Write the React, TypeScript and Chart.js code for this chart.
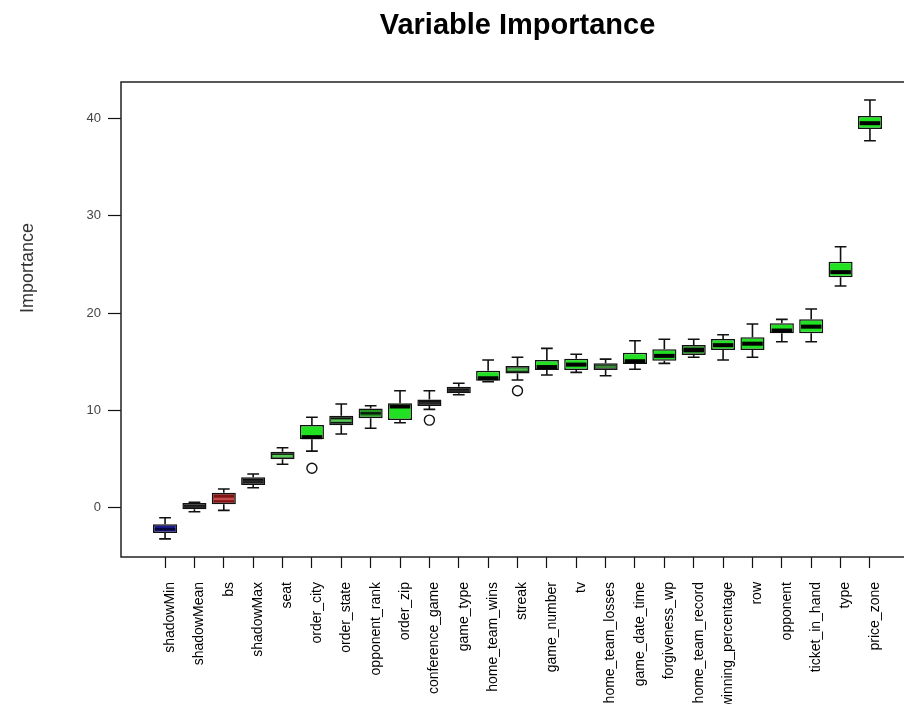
import React, { useEffect, useRef } from "react";
import { Chart, registerables } from "chart.js";

Chart.register(...registerables);

const names = [
  "shadowMin", "shadowMean", "bs", "shadowMax", "seat", "order_city", "order_state",
  "opponent_rank", "order_zip", "conference_game", "game_type", "home_team_wins",
  "streak", "game_number", "tv", "home_team_losses", "game_date_time", "forgiveness_wp",
  "home_team_record", "winning_percentage", "row", "opponent", "ticket_in_hand", "type",
  "price_zone",
];
const whiskerLow = [-3.2, -0.41, -0.27, 2.05, 4.46, 5.82, 7.57, 8.16, 8.73, 10.1, 11.6, 12.94, 13.12, 13.63, 13.9, 13.56, 14.22, 14.83, 15.45, 15.17, 15.45, 17.05, 17.05, 22.77, 37.7];
const q1 = [-2.6, -0.16, 0.35, 2.33, 4.97, 7.03, 8.46, 9.18, 9.0, 10.45, 11.75, 13.05, 13.8, 14.14, 14.14, 14.15, 14.76, 15.1, 15.68, 16.2, 16.2, 17.91, 17.91, 23.67, 38.9];
const medians = [-2.2, 0.1, 0.9, 2.7, 5.3, 7.25, 8.95, 9.7, 10.4, 10.75, 12.0, 13.3, 14.2, 14.45, 14.7, 14.48, 15.05, 15.6, 16.2, 16.7, 16.85, 18.2, 18.6, 24.2, 39.5];
const q3 = [-1.7, 0.48, 1.54, 3.12, 5.75, 8.5, 9.45, 10.2, 10.72, 11.13, 12.43, 14.07, 14.55, 15.17, 15.3, 14.83, 15.92, 16.27, 16.71, 17.33, 17.5, 18.94, 19.35, 25.27, 40.24];
const whiskerHigh = [-1.03, 0.55, 1.92, 3.46, 6.16, 9.29, 10.65, 10.48, 12.02, 12.02, 12.78, 15.17, 15.45, 16.37, 15.76, 15.27, 17.15, 17.3, 17.3, 17.77, 18.87, 19.35, 20.41, 26.81, 41.88];
const outlierIdx = [5, 9, 12];
const outlierVal = [4.05, 9.0, 12.02];
const yTicks = [0, 10, 20, 30, 40];

const GREEN = "#22e022";
const DARK = "#0c1a0c";
const fills = [
  "#1c1c8a", "#0d0d0d", "#7e1414", "#0d0d0d", DARK, GREEN, DARK,
  "#249424", GREEN, "#0d0d0d", "#0d0d0d", GREEN,
  "#163216", GREEN, GREEN, "#102010", GREEN, GREEN,
  "#248424", GREEN, GREEN, GREEN, GREEN, GREEN, GREEN,
];
const medianColors = [
  "#06063e", "#262626", "#c44a4a", "#262626", "#56c856", "#000000", "#56c856",
  "#0a200a", "#000000", "#262626", "#262626", "#000000",
  "#4cbc4c", "#000000", "#000000", "#3a8a3a", "#000000", "#000000",
  "#000000", "#000000", "#000000", "#000000", "#000000", "#000000", "#000000",
];

const W = 940;
const H = 780;
const FONT = "'Liberation Sans', Arial, sans-serif";

export default function App() {
  const ref = useRef<HTMLCanvasElement>(null);

  useEffect(() => {
    const canvas = ref.current;
    if (!canvas) return;

    const boxPlugin = {
      id: "boxExtras",
      afterDatasetsDraw(chart: any) {
        const { ctx, scales } = chart;
        const x = scales.x;
        const y = scales.y;
        const step = x.getPixelForValue(1) - x.getPixelForValue(0);
        const half = (step * 0.8) / 2;
        const staple = half / 2;
        ctx.save();
        for (let i = 0; i < names.length; i++) {
          const cx = x.getPixelForValue(i);
          const yLo = y.getPixelForValue(whiskerLow[i]);
          const yQ1 = y.getPixelForValue(q1[i]);
          const yQ3 = y.getPixelForValue(q3[i]);
          const yHi = y.getPixelForValue(whiskerHigh[i]);
          const yMed = y.getPixelForValue(medians[i]);
          ctx.strokeStyle = "#111";
          ctx.lineWidth = 1.6;
          ctx.beginPath();
          ctx.moveTo(cx, yQ3);
          ctx.lineTo(cx, yHi);
          ctx.moveTo(cx - staple, yHi);
          ctx.lineTo(cx + staple, yHi);
          ctx.moveTo(cx, yQ1);
          ctx.lineTo(cx, yLo);
          ctx.moveTo(cx - staple, yLo);
          ctx.lineTo(cx + staple, yLo);
          ctx.stroke();
          ctx.strokeStyle = medianColors[i];
          ctx.lineWidth = medianColors[i] === "#000000" ? 4 : 2.5;
          ctx.beginPath();
          ctx.moveTo(cx - half + 1.5, yMed);
          ctx.lineTo(cx + half - 1.5, yMed);
          ctx.stroke();
        }
        ctx.restore();
      },
      afterDraw(chart: any) {
        const { ctx, chartArea } = chart;
        const { left, right, top, bottom } = chartArea;
        ctx.save();
        ctx.strokeStyle = "#222";
        ctx.lineWidth = 1.5;
        ctx.strokeRect(left, top, right - left, bottom - top);
        ctx.fillStyle = "#000";
        ctx.font = `bold 29px ${FONT}`;
        ctx.textAlign = "center";
        ctx.textBaseline = "middle";
        ctx.fillText("Variable Importance", (left + right) / 2, 26);
        ctx.translate(28, 268);
        ctx.rotate(-Math.PI / 2);
        ctx.fillStyle = "#333";
        ctx.font = `18px ${FONT}`;
        ctx.fillText("Importance", 0, 0);
        ctx.restore();
      },
    };

    const chart = new Chart(canvas, {
      type: "bar",
      data: {
        datasets: [
          {
            type: "bar",
            data: names.map((_, i) => ({ x: i, y: [q1[i], q3[i]] })) as any,
            backgroundColor: fills,
            borderColor: "#111",
            borderWidth: 1.5,
            borderSkipped: false,
            barPercentage: 0.82,
            categoryPercentage: 1,
          },
          {
            type: "scatter",
            data: outlierIdx.map((idx, k) => ({ x: idx, y: outlierVal[k] })) as any,
            pointRadius: 5,
            pointBackgroundColor: "#fff",
            pointBorderColor: "#111",
            pointBorderWidth: 1.4,
          } as any,
        ],
      },
      options: {
        animation: false,
        responsive: false,
        devicePixelRatio: 1,
        layout: { padding: { top: 82, right: W - 914, left: 0, bottom: 0 } },
        plugins: { legend: { display: false }, tooltip: { enabled: false }, title: { display: false } },
        scales: {
          x: {
            type: "linear",
            offset: false,
            min: -1.5,
            max: 25.5,
            afterBuildTicks: (s: any) => {
              s.ticks = names.map((_, i) => ({ value: i }));
            },
            afterFit: (s: any) => {
              s.height = H - 557;
            },
            ticks: {
              autoSkip: false,
              minRotation: 90,
              maxRotation: 90,
              padding: 14,
              labelOffset: 5,
              color: "#000",
              font: { family: FONT, size: 14 },
              callback: (v: any) => names[v] ?? "",
            },
            grid: { display: true, offset: false, drawOnChartArea: false, drawTicks: true, tickLength: 11, tickColor: "#111", tickWidth: 1.2 },
            border: { display: false },
          },
          y: {
            type: "linear",
            min: -5.06,
            max: 43.73,
            afterBuildTicks: (s: any) => {
              s.ticks = yTicks.map((v) => ({ value: v }));
            },
            afterFit: (s: any) => {
              s.width = 121;
            },
            ticks: { padding: 7, color: "#444", font: { family: FONT, size: 13 } },
            grid: { display: true, drawOnChartArea: false, drawTicks: true, tickLength: 13, tickColor: "#111", tickWidth: 1.2 },
            border: { display: false },
          },
        },
      } as any,
      plugins: [boxPlugin],
    });
    return () => chart.destroy();
  }, []);

  return (
    <div style={{ position: "fixed", left: 0, top: 0, width: 904, height: 704, overflow: "hidden", background: "#fff" }}>
      <canvas ref={ref} width={W} height={H} style={{ display: "block", width: W, height: H }} />
    </div>
  );
}
